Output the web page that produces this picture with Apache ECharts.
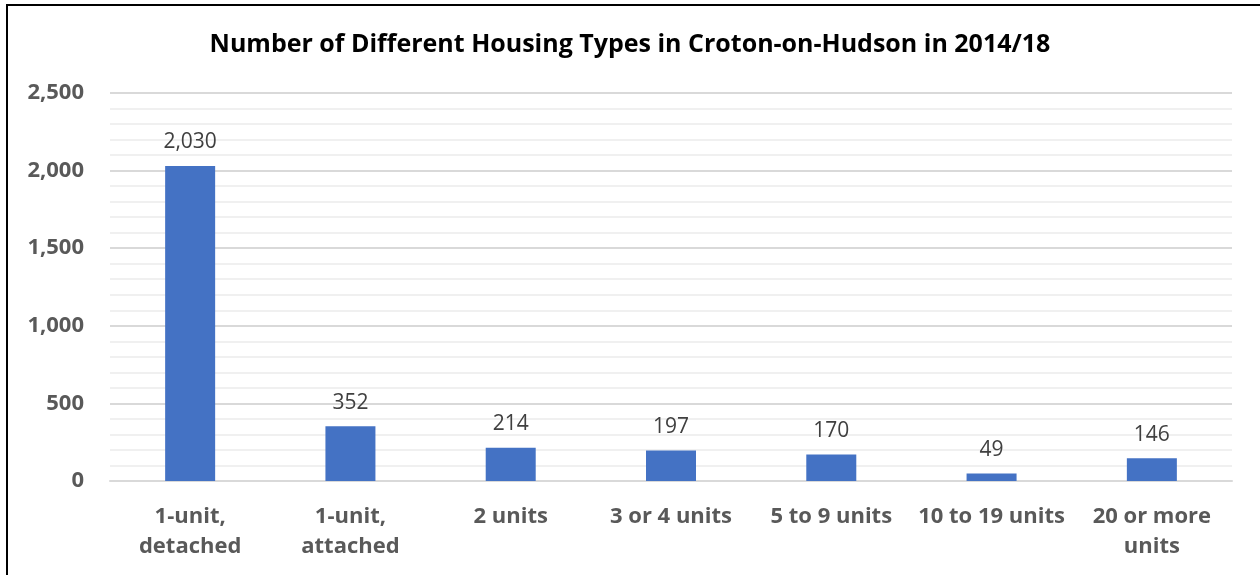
<!DOCTYPE html>
<html>
<head>
<meta charset="utf-8">
<script src="https://cdn.jsdelivr.net/npm/echarts@6/dist/echarts.min.js"></script>
<style>
  html, body { margin: 0; padding: 0; background: #fff; }
  #chart { width: 1260px; height: 575px; }
</style>
</head>
<body>
<div id="chart"></div>
<script>
// housing types (ACS 2014/18)
const categories = ['1-unit,\ndetached', '1-unit,\nattached', '2 units', '3 or 4 units', '5 to 9 units', '10 to 19 units', '20 or more\nunits'];
const housingUnits = [2030, 352, 214, 197, 170, 49, 146];
const titleText = 'Number of Different Housing Types in Croton-on-Hudson in 2014/18';

const font = '"Open Sans", Lato, sans-serif';
const fmt = v => Number(v).toLocaleString('en-US');

const chart = echarts.init(document.getElementById('chart'));
chart.setOption({
  animation: false,
  textStyle: { fontFamily: font },
  title: {
    text: titleText,
    left: 'center',
    top: 27,
    textStyle: { fontSize: 25, fontWeight: 'bold', color: '#000', fontFamily: font }
  },
  // chart frame (only left/top edges are visible in the shot)
  graphic: [{
    type: 'rect',
    shape: { x: 7, y: 5, width: 1400, height: 700 },
    style: { fill: 'none', stroke: '#000', lineWidth: 2 },
    silent: true
  }],
  grid: { left: 110, right: 28, top: 93, bottom: 94 },
  xAxis: {
    type: 'category',
    data: categories,
    axisTick: { show: false },
    axisLine: { lineStyle: { color: '#d9d9d9', width: 2 } },
    axisLabel: {
      interval: 0,
      margin: 21,
      fontSize: 22,
      fontWeight: 'bold',
      color: '#595959',
      lineHeight: 30
    }
  },
  yAxis: {
    type: 'value',
    min: 0,
    max: 2500,
    interval: 500,
    axisLine: { show: false },
    axisTick: { show: false },
    axisLabel: {
      margin: 26,
      fontSize: 22,
      fontWeight: 'bold',
      color: '#595959',
      formatter: fmt
    },
    splitLine: { lineStyle: { color: '#d9d9d9', width: 2 } },
    minorTick: { show: false, splitNumber: 5 },
    minorSplitLine: { show: true, lineStyle: { color: '#f0f0f0', width: 2 } }
  },
  series: [{
    type: 'bar',
    data: housingUnits,
    barWidth: 50,
    itemStyle: { color: '#4472c4' },
    label: {
      show: true,
      position: 'top',
      distance: 13,
      fontSize: 21,
      color: '#404040',
      formatter: p => fmt(p.value)
    }
  }]
});
</script>
</body>
</html>
